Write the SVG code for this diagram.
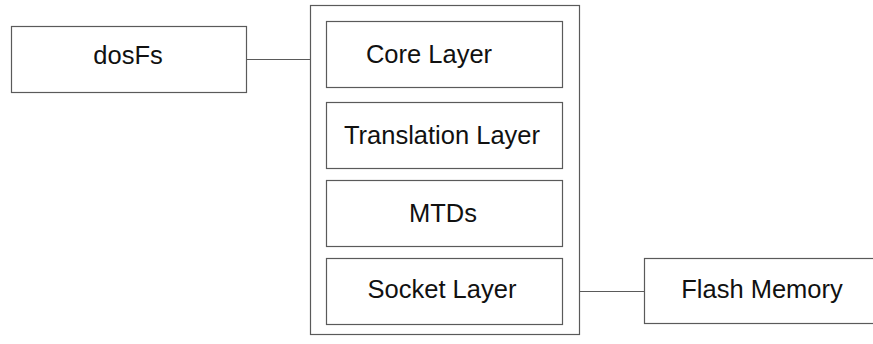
<svg xmlns="http://www.w3.org/2000/svg" width="873" height="344" viewBox="0 0 873 344">
<style>
rect{fill:#fff;stroke:#5a5a5a;stroke-width:1.2}
text{font-family:"Liberation Sans",Arial,sans-serif;font-size:25.5px;fill:#111;text-anchor:middle}
.c line{stroke:#5a5a5a;stroke-width:1.2}
</style>
<g id="stack"><rect x="310.5" y="5.5" width="269" height="329"/></g>
<g id="dosfs"><rect x="11.5" y="26.5" width="235" height="66"/><text x="128" y="64">dosFs</text></g>
<g id="core"><rect x="326.5" y="21.5" width="236" height="66"/><text x="429" y="63">Core Layer</text></g>
<g id="translation"><rect x="326.5" y="102.5" width="236" height="66"/><text x="442" y="144">Translation Layer</text></g>
<g id="mtds"><rect x="326.5" y="180.5" width="236" height="66"/><text x="443" y="222">MTDs</text></g>
<g id="socket"><rect x="326.5" y="258.5" width="236" height="66"/><text x="442" y="298">Socket Layer</text></g>
<g id="flash"><rect x="644.5" y="258.5" width="240" height="65"/><text x="762" y="298">Flash Memory</text></g>
<g class="c" id="connectors">
<line x1="246.5" y1="59.5" x2="310.5" y2="59.5"/>
<line x1="579.5" y1="291.5" x2="644.5" y2="291.5"/>
</g>
</svg>
